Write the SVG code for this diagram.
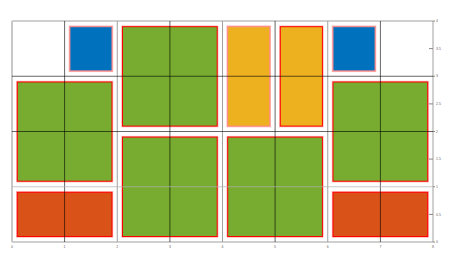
<svg xmlns="http://www.w3.org/2000/svg" width="452" height="272" viewBox="0 0 452 272">
<style>
.bg{fill:#fff}
.halo{fill:none;stroke:#ffb4b4;stroke-width:2.4}
.edge{stroke:#ff0000;stroke-width:1}
.edgep{stroke:#ff8888;stroke-width:1}
.blue{fill:#0072bd}
.green{fill:#77ac30}
.yellow{fill:#edb120}
.orange{fill:#d95319}
.gl{stroke:#a0a0a0;stroke-width:1;fill:none}
.gd{stroke:#000;stroke-opacity:0.6;stroke-width:1;fill:none}
.gm{stroke:#b0b0b0;stroke-opacity:0.7;stroke-width:1;fill:none}
.tk{stroke:#888;stroke-width:1}
.lbl{font-family:"Liberation Sans",Arial,sans-serif;font-size:3.5px;fill:#666}
</style>
<rect class="bg" x="0" y="0" width="452" height="272"/>
<g id="grid-back">
<path class="gl" d="M117.25 21V242M222.5 21V242M327.75 21V242"/>
<path class="gl" d="M12 21H433V242H12Z"/>
<path d="M12 21V242" stroke="#c8c8c8" stroke-width="2"/>
</g>
<g id="n-blue-1"><rect class="halo" x="69.9" y="26.7" width="42.1" height="44.2"/><rect class="blue edgep" x="69.9" y="26.7" width="42.1" height="44.2"/></g>
<g id="n-green-left"><rect class="halo" x="17.3" y="82" width="94.7" height="99.2"/><rect class="green edge" x="17.3" y="82" width="94.7" height="99.2"/></g>
<g id="n-orange-left"><rect class="halo" x="17.3" y="192.3" width="94.7" height="44.2"/><rect class="orange edge" x="17.3" y="192.3" width="94.7" height="44.2"/></g>
<g id="n-green-top"><rect class="halo" x="122.5" y="26.7" width="94.7" height="99.4"/><rect class="green edge" x="122.5" y="26.7" width="94.7" height="99.4"/></g>
<g id="n-green-bottom"><rect class="halo" x="122.5" y="137.1" width="94.7" height="99.4"/><rect class="green edge" x="122.5" y="137.1" width="94.7" height="99.4"/></g>
<g id="n-yellow-1"><rect class="halo" x="227.7" y="26.7" width="42.1" height="99.4"/><rect class="yellow edgep" x="227.7" y="26.7" width="42.1" height="99.4"/></g>
<g id="n-yellow-2"><rect class="halo" x="280.3" y="26.7" width="42.1" height="99.4"/><rect class="yellow edge" x="280.3" y="26.7" width="42.1" height="99.4"/></g>
<g id="n-green-bottom-2"><rect class="halo" x="227.7" y="137.1" width="94.7" height="99.4"/><rect class="green edge" x="227.7" y="137.1" width="94.7" height="99.4"/></g>
<g id="n-blue-2"><rect class="halo" x="333" y="26.7" width="42.1" height="44.2"/><rect class="blue edgep" x="333" y="26.7" width="42.1" height="44.2"/></g>
<g id="n-green-right"><rect class="halo" x="333" y="82" width="94.7" height="99.2"/><rect class="green edge" x="333" y="82" width="94.7" height="99.2"/></g>
<g id="n-orange-right"><rect class="halo" x="333" y="192.3" width="94.7" height="44.2"/><rect class="orange edge" x="333" y="192.3" width="94.7" height="44.2"/></g>
<g id="connectors">
<path class="gd" d="M64.6 21V242M169.9 21V242M275.1 21V242M380.4 21V242"/>
<path class="gd" d="M12 76.25H433M12 131.5H433"/>
<path class="gm" d="M12 186.75H433"/>
<path class="tk" d="M429 48.6H433M429 103.9H433M429 159.1H433M429 214.4H433"/>
<path class="tk" d="M433 21H435M433 76.25H435M433 131.5H435M433 186.75H435M433 242H435"/>
</g>
<g id="axis-labels" class="lbl">
<text x="436" y="22.2">4</text>
<text x="436" y="49.8">3.5</text>
<text x="436" y="77.4">3</text>
<text x="436" y="105.1">2.5</text>
<text x="436" y="132.7">2</text>
<text x="436" y="160.3">1.5</text>
<text x="436" y="187.9">1</text>
<text x="436" y="215.6">0.5</text>
<text x="436" y="243.2">0</text>
<g text-anchor="middle">
<text x="12" y="248">0</text>
<text x="64.6" y="248">1</text>
<text x="117.25" y="248">2</text>
<text x="169.9" y="248">3</text>
<text x="222.5" y="248">4</text>
<text x="275.1" y="248">5</text>
<text x="327.75" y="248">6</text>
<text x="380.4" y="248">7</text>
<text x="433" y="248">8</text>
</g>
</g>
</svg>
